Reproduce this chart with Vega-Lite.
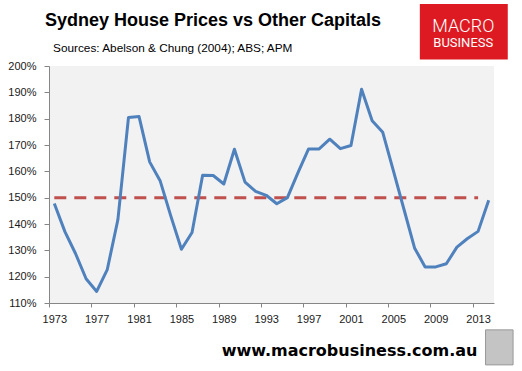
{
  "$schema": "https://vega.github.io/schema/vega-lite/v6.json",
  "width": 445,
  "height": 237,
  "autosize": {"type": "none"},
  "padding": {"left": 49, "top": 66, "right": 28, "bottom": 68},
  "background": "white",
  "config": {
    "view": {"fill": "#F2F2F2", "stroke": null},
    "font": "Liberation Sans",
    "axis": {
      "labelOverlap": false,
      "grid": false,
      "domainColor": "#868686",
      "tickColor": "#868686",
      "labelFont": "Liberation Sans",
      "labelFontSize": 11,
      "labelColor": "#1a1a1a"
    },
    "axisX": {"tickSize": 4, "labelPadding": 6, "labelFlush": false},
    "axisY": {"tickSize": 5, "labelPadding": 8}
  },
  "datasets": {
    "prices": [
      {"year": 1973, "ratio": 147.8},
      {"year": 1974, "ratio": 137.1},
      {"year": 1975, "ratio": 128.8},
      {"year": 1976, "ratio": 119.2},
      {"year": 1977, "ratio": 114.4},
      {"year": 1978, "ratio": 122.7},
      {"year": 1979, "ratio": 141.6},
      {"year": 1980, "ratio": 180.4},
      {"year": 1981, "ratio": 180.8},
      {"year": 1982, "ratio": 163.6},
      {"year": 1983, "ratio": 156.3},
      {"year": 1984, "ratio": 143.0},
      {"year": 1985, "ratio": 130.4},
      {"year": 1986, "ratio": 136.8},
      {"year": 1987, "ratio": 158.5},
      {"year": 1988, "ratio": 158.4},
      {"year": 1989, "ratio": 155.2},
      {"year": 1990, "ratio": 168.4},
      {"year": 1991, "ratio": 155.9},
      {"year": 1992, "ratio": 152.4},
      {"year": 1993, "ratio": 150.9},
      {"year": 1994, "ratio": 147.7},
      {"year": 1995, "ratio": 150.0},
      {"year": 1996, "ratio": 159.5},
      {"year": 1997, "ratio": 168.5},
      {"year": 1998, "ratio": 168.5},
      {"year": 1999, "ratio": 172.2},
      {"year": 2000, "ratio": 168.6},
      {"year": 2001, "ratio": 169.8},
      {"year": 2002, "ratio": 191.2},
      {"year": 2003, "ratio": 179.2},
      {"year": 2004, "ratio": 174.8},
      {"year": 2005, "ratio": 160.3},
      {"year": 2006, "ratio": 145.6},
      {"year": 2007, "ratio": 130.9},
      {"year": 2008, "ratio": 123.7},
      {"year": 2009, "ratio": 123.7},
      {"year": 2010, "ratio": 124.9},
      {"year": 2011, "ratio": 131.2},
      {"year": 2012, "ratio": 134.5},
      {"year": 2013, "ratio": 137.2},
      {"year": 2014, "ratio": 149.0}
    ],
    "one": [{"item": "decoration"}]
  },
  "layer": [
    {
      "data": {"name": "one"},
      "mark": {"type": "rule", "color": "#C0504D", "strokeWidth": 3, "strokeDash": [12, 8]},
      "encoding": {
        "x": {
          "datum": 1973,
          "type": "quantitative",
          "scale": {"domain": [1972.5, 2014.5], "nice": false, "zero": false},
          "axis": {
            "values": [1973, 1977, 1981, 1985, 1989, 1993, 1997, 2001, 2005, 2009, 2013],
            "tickCount": 20,
            "format": "d",
            "labelOverlap": false,
            "title": "www.macrobusiness.com.au",
            "titleFont": "DejaVu Sans",
            "titleFontSize": 16,
            "titleFontWeight": "bold",
            "titleColor": "#000000",
            "titleAlign": "right",
            "titleX": 428,
            "titleY": 52,
            "titleBaseline": "alphabetic",
            "tickOffset": -5.3,
            "labelOffset": 5.3
          }
        },
        "x2": {"datum": 2013},
        "y": {
          "datum": 150,
          "type": "quantitative",
          "scale": {"domain": [110, 200], "nice": false, "zero": false},
          "axis": {
            "values": [110, 120, 130, 140, 150, 160, 170, 180, 190, 200],
            "tickCount": 20,
            "labelExpr": "datum.value + '%'",
            "labelOverlap": false,
            "title": null
          }
        }
      }
    },
    {
      "data": {"name": "prices"},
      "mark": {"type": "line", "color": "#4F81BD", "strokeWidth": 3, "strokeJoin": "round"},
      "encoding": {
        "x": {"field": "year", "type": "quantitative"},
        "y": {"field": "ratio", "type": "quantitative"}
      }
    },
    {
      "data": {"name": "one"},
      "mark": {"type": "text", "fill": "#000000", "font": "Liberation Sans", "fontSize": 18, "fontWeight": "bold", "align": "left", "baseline": "alphabetic", "text": "Sydney House Prices vs Other Capitals"},
      "encoding": {
        "x": {"datum": 1972.12, "type": "quantitative"},
        "y": {"datum": 215.1, "type": "quantitative"}
      }
    },
    {
      "data": {"name": "one"},
      "mark": {"type": "text", "fill": "#000000", "font": "Liberation Sans", "fontSize": 11.8, "align": "left", "baseline": "alphabetic", "text": "Sources: Abelson & Chung (2004); ABS; APM"},
      "encoding": {
        "x": {"datum": 1972.88, "type": "quantitative"},
        "y": {"datum": 205.2, "type": "quantitative"}
      }
    },
    {
      "data": {"name": "one"},
      "mark": {"type": "rect", "fill": "#DD1A22"},
      "encoding": {
        "x": {"datum": 2007.5, "type": "quantitative"},
        "x2": {"datum": 2015.8},
        "y": {"datum": 223.5, "type": "quantitative"},
        "y2": {"datum": 202.5}
      }
    },
    {
      "data": {"name": "one"},
      "mark": {"type": "text", "fill": "white", "font": "Roboto", "fontSize": 18, "fontWeight": 300, "align": "center", "baseline": "alphabetic", "text": "MACRO"},
      "encoding": {
        "x": {"datum": 2011.6, "type": "quantitative"},
        "y": {"datum": 212.8, "type": "quantitative"}
      }
    },
    {
      "data": {"name": "one"},
      "mark": {"type": "text", "fill": "white", "font": "Roboto", "fontSize": 13, "fontWeight": 400, "align": "center", "baseline": "alphabetic", "text": "BUSINESS"},
      "encoding": {
        "x": {"datum": 2011.6, "type": "quantitative"},
        "y": {"datum": 207.1, "type": "quantitative"}
      }
    },
    {
      "data": {"name": "one"},
      "mark": {"type": "rect", "fill": "#C4C4C4", "stroke": "#999999", "strokeWidth": 1},
      "encoding": {
        "x": {"datum": 2013.7, "type": "quantitative"},
        "x2": {"datum": 2016.3},
        "y": {"datum": 99.8, "type": "quantitative"},
        "y2": {"datum": 86.5}
      }
    }
  ]
}
